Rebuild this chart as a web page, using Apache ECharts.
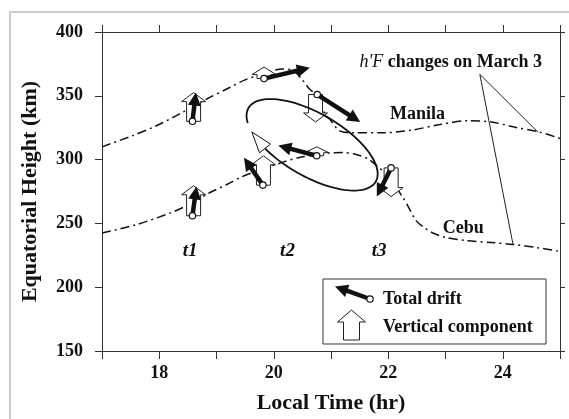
<!DOCTYPE html>
<html>
<head>
<meta charset="utf-8">
<script src="https://cdn.jsdelivr.net/npm/echarts@6/dist/echarts.min.js"></script>
<style>
html, body { margin: 0; padding: 0; background: #fff; }
#chart { width: 569px; height: 419px; }
</style>
</head>
<body>
<div id="chart"></div>
<script>
// h'F curves (local time in hr, equatorial height in km)
var manilaHr = [17, 17.55, 17.95, 18.3, 18.83, 19.23, 19.5, 19.8, 20.15, 20.35, 20.5, 20.62, 20.76, 20.9, 21.0, 21.15, 21.4, 21.9, 22.4, 22.9, 23.4, 23.8, 24.2, 24.65, 25];
var manilaKm = [310, 319, 326.5, 334.5, 347.5, 356.5, 362.5, 367, 371, 369.5, 362.5, 355.5, 350, 335.5, 330.5, 322.5, 321, 321, 323, 327.5, 330.5, 329.5, 325.5, 321.5, 316.5];
var cebuHr = [17, 17.6, 18.24, 18.55, 18.88, 19.18, 19.44, 19.8, 20.16, 20.43, 20.92, 21.21, 21.44, 21.65, 21.79, 22.0, 22.26, 22.35, 22.49, 22.65, 22.78, 23.0, 23.36, 23.8, 24.18, 24.6, 25];
var cebuKm = [242.5, 249, 259, 265.5, 274, 280.5, 286.5, 292.5, 298, 301.5, 305, 305.5, 304, 300.5, 295.5, 287, 270, 263, 252, 246, 242.5, 239, 236.5, 235, 233.5, 231, 228];

// total drift: [hr from, km from, hr to, km to]
var drifts = [
    [18.58, 330, 18.64, 352.5],
    [18.58, 256, 18.65, 279],
    [19.83, 363.5, 20.63, 372],
    [19.81, 280, 19.48, 301.5],
    [20.76, 351, 21.51, 329.5],
    [20.75, 303, 20.08, 311],
    [22.05, 293.5, 21.8, 271]
];
// vertical component: [hr, km from, km to]
var verticals = [
    [18.6, 330, 352.5],
    [18.6, 256, 279.5],
    [19.83, 363.5, 372.5],
    [19.82, 280, 303],
    [20.73, 351, 329.5],
    [20.75, 303, 310],
    [22.05, 293.5, 271]
];
var swirlCenter = [20.67, 311.6];
var hfLines = [
    [23.6, 366.8, 24.62, 321.3],
    [23.6, 366.8, 24.18, 233.4]
];
var labelText = ["{i|h'F} changes on March 3", 'Manila', 'Cebu', '{t|t1}', '{t|t2}', '{t|t3}'];
var labelPos = [[23.09, 375.9], [22.51, 335.7], [23.31, 246.4], [18.54, 228.2], [20.24, 228.2], [21.84, 228.2]];

var FONT = 'Liberation Serif';
var INK = '#111';

function pairs(xs, ys) {
    return xs.map(function (x, i) { return [x, ys[i]]; });
}

function driftArrow(p0, p1, o) {
    var dx = p1[0] - p0[0], dy = p1[1] - p0[1];
    var len = Math.sqrt(dx * dx + dy * dy);
    var ux = dx / len, uy = dy / len;
    var bx = p1[0] - ux * o.headLen, by = p1[1] - uy * o.headLen;
    return [
        { type: 'line', shape: { x1: p0[0], y1: p0[1], x2: bx + ux * 2, y2: by + uy * 2 },
          style: { stroke: INK, lineWidth: o.shaft } },
        { type: 'polygon', shape: { points: [[p1[0], p1[1]], [bx - uy * o.headHalf, by + ux * o.headHalf], [bx + uy * o.headHalf, by - ux * o.headHalf]] },
          style: { fill: INK } },
        { type: 'circle', shape: { cx: p0[0], cy: p0[1], r: o.r },
          style: { fill: '#fff', stroke: INK, lineWidth: 1.2 } }
    ];
}

function vertArrow(x, y0, y1, o) {
    var dir = y1 > y0 ? 1 : -1;
    var hl = Math.min(o.headLen, Math.abs(y1 - y0) * 0.65);
    var yb = y1 - dir * hl;
    var bw = o.bodyHalf, hw = o.headHalf;
    return {
        type: 'polygon',
        shape: { points: [[x - bw, y0], [x - bw, yb], [x - hw, yb], [x, y1], [x + hw, yb], [x + bw, yb], [x + bw, y0]] },
        style: { fill: '#fff', stroke: '#222', lineWidth: 1 }
    };
}

var dashDot = { color: INK, width: 1.5, type: [9, 4, 2, 4] };

var chart = echarts.init(document.getElementById('chart'));

var option = {
    animation: false,
    backgroundColor: '#fff',
    grid: { left: 102, right: 9, top: 32, bottom: 65 },
    xAxis: [{
        type: 'value', min: 17, max: 25, interval: 1,
        name: 'Local Time (hr)', nameLocation: 'middle', nameGap: 41,
        nameTextStyle: { fontFamily: FONT, fontWeight: 'bold', fontSize: 22, color: INK },
        axisLine: { lineStyle: { color: '#333', width: 1 } },
        axisTick: { length: 8, lineStyle: { color: '#333' } },
        axisLabel: {
            margin: 13, fontFamily: FONT, fontWeight: 'bold', fontSize: 18, color: INK,
            formatter: function (v) { return v % 2 === 0 ? String(v) : ''; }
        },
        splitLine: { show: false }
    }, {
        type: 'value', position: 'top', min: 17, max: 25, interval: 1,
        axisLine: { show: true, lineStyle: { color: '#333', width: 1 } },
        axisTick: { show: true, length: 7, lineStyle: { color: '#333' } },
        axisLabel: { show: false },
        splitLine: { show: false }
    }],
    yAxis: [{
        type: 'value', min: 150, max: 400, interval: 50,
        name: 'Equatorial Height (km)', nameLocation: 'middle', nameGap: 61,
        nameTextStyle: { fontFamily: FONT, fontWeight: 'bold', fontSize: 22, color: INK },
        axisLine: { show: true, lineStyle: { color: '#333', width: 1 } },
        axisTick: { show: true, length: 7, lineStyle: { color: '#333' } },
        axisLabel: { margin: 19, fontFamily: FONT, fontWeight: 'bold', fontSize: 18, color: INK },
        splitLine: { show: false }
    }, {
        type: 'value', position: 'right', min: 150, max: 400, interval: 50,
        axisLine: { show: true, lineStyle: { color: '#333', width: 1 } },
        axisTick: { show: true, length: 5, lineStyle: { color: '#333' } },
        axisLabel: { show: false },
        splitLine: { show: false }
    }],
    graphic: [
        { type: 'rect', silent: true, z: -100, shape: { x: 10, y: 12, width: 620, height: 480 },
          style: { fill: 'none', stroke: '#cdcdcd', lineWidth: 2 } },
        { type: 'group', z: 100, children: [
            { type: 'rect', shape: { x: 323, y: 279, width: 223, height: 65 },
              style: { fill: '#fff', stroke: '#333', lineWidth: 1 } },
            { type: 'group', children: driftArrow([370, 299], [335, 286.5], { headLen: 13, headHalf: 6.5, shaft: 4.5, r: 3.2 }) },
            vertArrow(351.5, 340, 310, { headLen: 12, headHalf: 14, bodyHalf: 8 }),
            { type: 'text', x: 383, y: 299, style: { text: 'Total drift', fontFamily: FONT, fontWeight: 'bold', fontSize: 18, fill: INK, align: 'left', verticalAlign: 'middle' } },
            { type: 'text', x: 383, y: 327, style: { text: 'Vertical component', fontFamily: FONT, fontWeight: 'bold', fontSize: 18, fill: INK, align: 'left', verticalAlign: 'middle' } }
        ] }
    ],
    series: [
        { name: 'Manila', type: 'line', data: pairs(manilaHr, manilaKm), smooth: 0.3,
          showSymbol: false, lineStyle: dashDot, z: 1 },
        { name: 'Cebu', type: 'line', data: pairs(cebuHr, cebuKm), smooth: 0.3,
          showSymbol: false, lineStyle: dashDot, z: 1 },
        {
            name: 'h\'F pointer', type: 'custom', data: hfLines, z: 2,
            encode: { x: [0, 2], y: [1, 3] },
            renderItem: function (params, api) {
                var a = api.coord([api.value(0), api.value(1)]);
                var b = api.coord([api.value(2), api.value(3)]);
                return { type: 'line', shape: { x1: a[0], y1: a[1], x2: b[0], y2: b[1] },
                         style: { stroke: '#222', lineWidth: 1 } };
            }
        },
        {
            name: 'Vertical component', type: 'custom', data: verticals, z: 3,
            encode: { x: 0, y: [1, 2] },
            renderItem: function (params, api) {
                var p0 = api.coord([api.value(0), api.value(1)]);
                var p1 = api.coord([api.value(0), api.value(2)]);
                return vertArrow(p0[0], p0[1], p1[1], { headLen: 9, headHalf: 12, bodyHalf: 7 });
            }
        },
        {
            name: 'Rotation', type: 'custom', data: [swirlCenter], z: 4,
            renderItem: function (params, api) {
                var c = api.coord([api.value(0), api.value(1)]);
                var a = 73.5, b = 31.5, th = Math.PI / 6;
                function pt(deg) {
                    var t = deg * Math.PI / 180;
                    var u = a * Math.cos(t), v = b * Math.sin(t);
                    return [c[0] + u * Math.cos(th) - v * Math.sin(th), c[1] + u * Math.sin(th) + v * Math.cos(th)];
                }
                var pts = [];
                for (var d = 155; d <= 482; d += 3) pts.push(pt(d));
                var base = pt(482), tip = pt(503);
                var dx = tip[0] - base[0], dy = tip[1] - base[1];
                var len = Math.sqrt(dx * dx + dy * dy), ux = dx / len, uy = dy / len;
                var hw = 7;
                return { type: 'group', children: [
                    { type: 'polyline', shape: { points: pts }, style: { stroke: INK, lineWidth: 1.8, fill: 'none' } },
                    { type: 'polygon', shape: { points: [tip, [base[0] - uy * hw, base[1] + ux * hw], [base[0] + uy * hw, base[1] - ux * hw]] },
                      style: { fill: '#fff', stroke: INK, lineWidth: 1 } }
                ] };
            }
        },
        {
            name: 'Total drift', type: 'custom', data: drifts, z: 5,
            encode: { x: [0, 2], y: [1, 3] },
            renderItem: function (params, api) {
                var p0 = api.coord([api.value(0), api.value(1)]);
                var p1 = api.coord([api.value(2), api.value(3)]);
                return { type: 'group', children: driftArrow(p0, p1, { headLen: 13, headHalf: 6.5, shaft: 4.5, r: 3.2 }) };
            }
        },
        {
            name: 'Labels', type: 'custom', data: labelPos, z: 6,
            renderItem: function (params, api) {
                var p = api.coord([api.value(0), api.value(1)]);
                return { type: 'text', x: p[0], y: p[1], style: {
                    text: labelText[params.dataIndex], fontFamily: FONT, fontWeight: 'bold', fontSize: 18,
                    fill: INK, align: 'center', verticalAlign: 'middle',
                    rich: {
                        i: { fontFamily: FONT, fontStyle: 'italic', fontWeight: 'normal', fontSize: 18, fill: INK },
                        t: { fontFamily: FONT, fontStyle: 'italic', fontWeight: 'bold', fontSize: 19, fill: INK }
                    }
                } };
            }
        }
    ]
};

chart.setOption(option);
</script>
</body>
</html>
